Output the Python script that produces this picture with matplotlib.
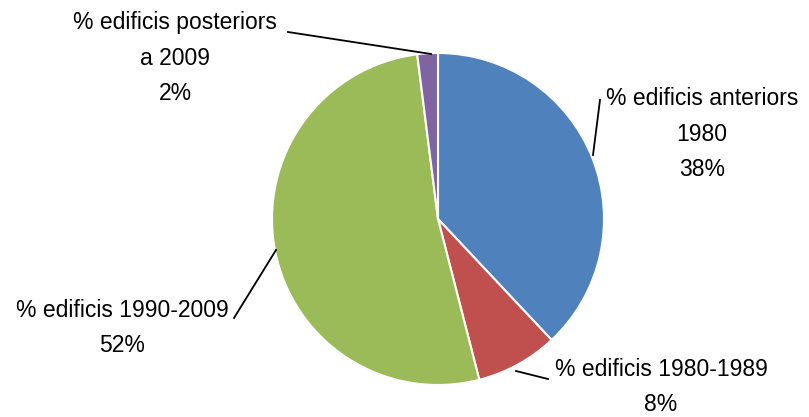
import matplotlib.pyplot as plt

labels = ['% edificis anteriors\n1980\n38%', '% edificis 1980-1989\n8%',
          '% edificis 1990-2009\n52%', '% edificis posteriors\na 2009\n2%']
values = [38, 8, 52, 2]
colors = ['#4F81BD', '#C0504D', '#9BBB59', '#8064A2']

W, H = 809, 417
fig = plt.figure(figsize=(W / 100, H / 100), dpi=100)
ax = fig.add_axes([0, 0, 1, 1])

cx, cy, r = 438, H - 219, 166
ax.pie(values, colors=colors, startangle=90, counterclock=False,
       center=(cx, cy), radius=r, frame=True,
       wedgeprops=dict(edgecolor='white', linewidth=1.5))
ax.set_xlim(0, W)
ax.set_ylim(0, H)
ax.set_aspect('equal')
ax.axis('off')

plt.rcParams['font.family'] = ['Liberation Sans', 'DejaVu Sans']
fs = 16.5
# label positions (text centre) and leader line points, in pixels from top-left
label_pos = [(702, 134), (661, 387), (122, 328), (175, 58)]
leaders = [
    [(600, 100), (593, 155)],
    [(548, 379), (516, 371)],
    [(234, 318), (276, 250)],
    [(288, 32), (431, 54)],
]
for txt, (x, y), pts in zip(labels, label_pos, leaders):
    ax.text(x, H - y, txt, ha='center', va='center', fontsize=fs,
            linespacing=1.72, color='#000000')
    ax.plot([p[0] for p in pts], [H - p[1] for p in pts], color='black', lw=1.3)

fig.savefig('out.png', dpi=100)
